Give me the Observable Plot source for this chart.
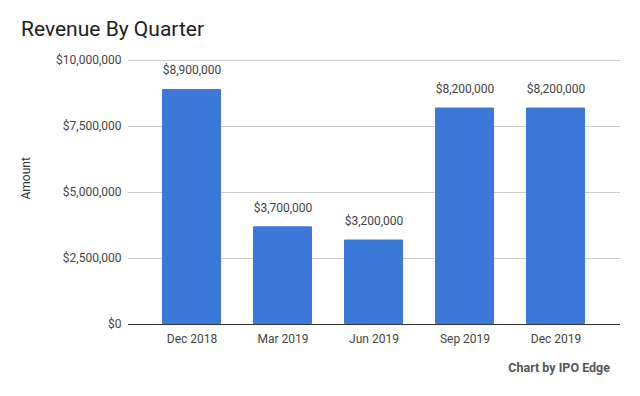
<!DOCTYPE html>
<html>
<head>
<meta charset="utf-8">
<script src="https://cdn.jsdelivr.net/npm/d3@7"></script>
<script src="https://cdn.jsdelivr.net/npm/@observablehq/plot@0.6"></script>
<style>
  html, body { margin: 0; padding: 0; background: #fff; }
  #wrap { position: relative; width: 640px; height: 396px; font-family: Roboto, sans-serif; }
  #title { position: absolute; left: 21px; top: 19px; font-size: 21px; line-height: 21px; color: #212121; }
  #caption { position: absolute; right: 30px; top: 361px; font-size: 12.5px; line-height: 14px; font-weight: bold; color: #555; }
  #chart { position: absolute; left: 0; top: 0; }
</style>
</head>
<body>
<div id="wrap">
  <div id="chart"></div>
  <div id="title">Revenue By Quarter</div>
  <div id="caption">Chart by IPO Edge</div>
</div>
<script>
const quarters = ["Dec 2018", "Mar 2019", "Jun 2019", "Sep 2019", "Dec 2019"];
const revenue = [8900000, 3700000, 3200000, 8200000, 8200000];
const yTicks = [0, 2500000, 5000000, 7500000, 10000000];

const data = quarters.map((q, i) => ({quarter: q, amount: revenue[i]}));
const money = d => "$" + d3.format(",")(d);

const chart = Plot.plot({
  width: 640,
  height: 396,
  marginLeft: 128,
  marginRight: 20,
  marginTop: 60,
  marginBottom: 72,
  style: {fontFamily: "Roboto, sans-serif", fontSize: "12px", color: "#444", background: "transparent"},
  x: {domain: quarters, padding: 0.35, label: null},
  y: {domain: [0, 10000000], label: null},
  marks: [
    Plot.gridY(yTicks, {stroke: "#ccc", strokeOpacity: 1}),
    Plot.axisY(yTicks, {tickFormat: money, tickSize: 0, tickPadding: 7, label: null, fill: "#444"}),
    Plot.text(["Amount"], {frameAnchor: "left", dx: -102, dy: 7, rotate: -90, fill: "#333", fontSize: 12}),
    Plot.axisX({tickSize: 0, tickPadding: 10, label: null, fill: "#444"}),
    Plot.barY(data, {x: "quarter", y: "amount", fill: "#3c78d8", rx: 1}),
    Plot.ruleY([0], {stroke: "#333"}),
    Plot.text(data, {x: "quarter", y: "amount", text: d => money(d.amount), dy: -19, fill: "#444", fontSize: 12})
  ]
});
document.getElementById("chart").appendChild(chart);
</script>
</body>
</html>
